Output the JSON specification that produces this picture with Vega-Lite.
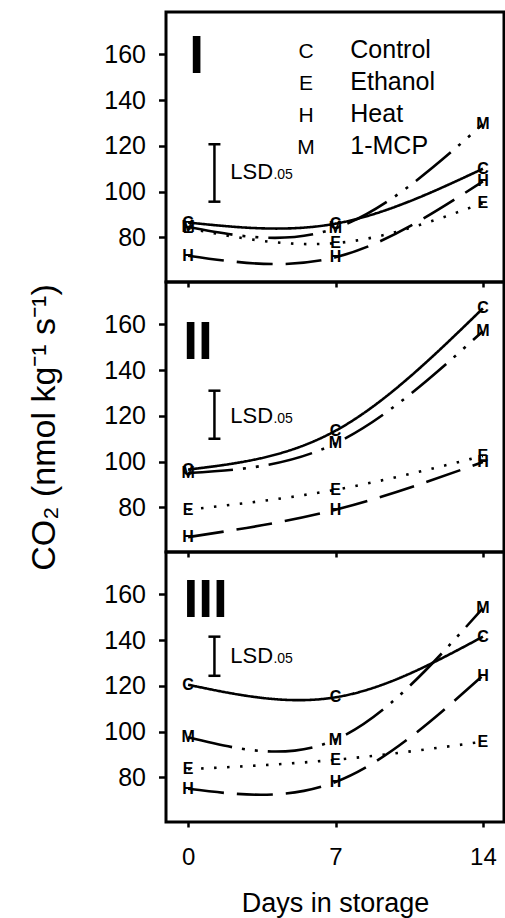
{
  "$schema": "https://vega.github.io/schema/vega-lite/v6.json",
  "padding": {"left": 26, "top": 10, "right": 0, "bottom": 0},
  "background": "white",
  "spacing": 0,
  "bounds": "flush",
  "datasets": {
    "pts": [
      {"panel": "I", "treatment": "Control", "code": "C", "day": 0, "co2": 86.5},
      {"panel": "I", "treatment": "Control", "code": "C", "day": 7, "co2": 86},
      {"panel": "I", "treatment": "Control", "code": "C", "day": 14, "co2": 110},
      {"panel": "I", "treatment": "Ethanol", "code": "E", "day": 0, "co2": 84},
      {"panel": "I", "treatment": "Ethanol", "code": "E", "day": 7, "co2": 77.5},
      {"panel": "I", "treatment": "Ethanol", "code": "E", "day": 14, "co2": 95},
      {"panel": "I", "treatment": "Heat", "code": "H", "day": 0, "co2": 72},
      {"panel": "I", "treatment": "Heat", "code": "H", "day": 7, "co2": 71.3},
      {"panel": "I", "treatment": "Heat", "code": "H", "day": 14, "co2": 104.5},
      {"panel": "I", "treatment": "1-MCP", "code": "M", "day": 0, "co2": 84.5},
      {"panel": "I", "treatment": "1-MCP", "code": "M", "day": 7, "co2": 84},
      {"panel": "I", "treatment": "1-MCP", "code": "M", "day": 14, "co2": 129.5},
      {"panel": "II", "treatment": "Control", "code": "C", "day": 0, "co2": 96.5},
      {"panel": "II", "treatment": "Control", "code": "C", "day": 7, "co2": 113.5},
      {"panel": "II", "treatment": "Control", "code": "C", "day": 14, "co2": 167},
      {"panel": "II", "treatment": "Ethanol", "code": "E", "day": 0, "co2": 79},
      {"panel": "II", "treatment": "Ethanol", "code": "E", "day": 7, "co2": 87.7},
      {"panel": "II", "treatment": "Ethanol", "code": "E", "day": 14, "co2": 102.5},
      {"panel": "II", "treatment": "Heat", "code": "H", "day": 0, "co2": 67},
      {"panel": "II", "treatment": "Heat", "code": "H", "day": 7, "co2": 79},
      {"panel": "II", "treatment": "Heat", "code": "H", "day": 14, "co2": 99.8},
      {"panel": "II", "treatment": "1-MCP", "code": "M", "day": 0, "co2": 95},
      {"panel": "II", "treatment": "1-MCP", "code": "M", "day": 7, "co2": 108},
      {"panel": "II", "treatment": "1-MCP", "code": "M", "day": 14, "co2": 157},
      {"panel": "III", "treatment": "Control", "code": "C", "day": 0, "co2": 120.5},
      {"panel": "III", "treatment": "Control", "code": "C", "day": 7, "co2": 115},
      {"panel": "III", "treatment": "Control", "code": "C", "day": 14, "co2": 141.5},
      {"panel": "III", "treatment": "Ethanol", "code": "E", "day": 0, "co2": 83.6},
      {"panel": "III", "treatment": "Ethanol", "code": "E", "day": 7, "co2": 87.7},
      {"panel": "III", "treatment": "Ethanol", "code": "E", "day": 14, "co2": 95.6},
      {"panel": "III", "treatment": "Heat", "code": "H", "day": 0, "co2": 75},
      {"panel": "III", "treatment": "Heat", "code": "H", "day": 7, "co2": 78},
      {"panel": "III", "treatment": "Heat", "code": "H", "day": 14, "co2": 124.5},
      {"panel": "III", "treatment": "1-MCP", "code": "M", "day": 0, "co2": 97.5},
      {"panel": "III", "treatment": "1-MCP", "code": "M", "day": 7, "co2": 96.5},
      {"panel": "III", "treatment": "1-MCP", "code": "M", "day": 14, "co2": 154}
    ],
    "lsd": [
      {"panel": "I", "day": 1.25, "lo": 95.6, "hi": 120.7, "textDay": 2.0, "subDay": 4.05, "textVal": 105.5},
      {"panel": "II", "day": 1.25, "lo": 110, "hi": 131, "textDay": 2.0, "subDay": 4.05, "textVal": 116.8},
      {"panel": "III", "day": 1.25, "lo": 124.4, "hi": 141.5, "textDay": 2.0, "subDay": 4.05, "textVal": 130.2}
    ],
    "roman": [
      {"panel": "I", "label": "I", "day": 0.4, "val": 151.7},
      {"panel": "II", "label": "II", "day": 0.47, "val": 144.9},
      {"panel": "III", "label": "III", "day": 0.83, "val": 150.1}
    ],
    "legend": [
      {"code": "C", "name": "Control", "val": 158.3},
      {"code": "E", "name": "Ethanol", "val": 144.3},
      {"code": "H", "name": "Heat", "val": 130.3},
      {"code": "M", "name": "1-MCP", "val": 116.3}
    ]
  },
  "config": {
    "view": {"stroke": "black", "strokeWidth": 3},
    "axis": {
      "labelFont": "Liberation Sans", "titleFont": "Liberation Sans",
      "labelColor": "black", "titleColor": "black", "tickColor": "black",
      "tickWidth": 2.5, "grid": false, "domain": false, "titleFontWeight": "normal"
    },
    "text": {"font": "Liberation Sans", "color": "black"}
  },
  "vconcat": [
    {
      "width": 338, "height": 270,
      "layer": [
        {
          "data": {"name": "pts"},
          "transform": [{"filter": "datum.panel === 'I'"}],
          "mark": {"type": "line", "interpolate": "natural", "strokeWidth": 2.6, "color": "black"},
          "encoding": {
            "x": {"field": "day", "type": "quantitative", "scale": {"domain": [-1.05, 15], "nice": false, "zero": false},
                  "axis": {"values": [0, 7, 14], "labels": false, "title": null, "tickSize": 5}},
            "y": {"field": "co2", "type": "quantitative", "scale": {"domain": [60.5, 178.5], "nice": false, "zero": false},
                  "axis": {"values": [80, 100, 120, 140, 160], "title": null, "labelFontSize": 25, "tickSize": 7.5, "labelPadding": 13}},
            "strokeDash": {"field": "treatment", "type": "nominal", "legend": null,
                           "scale": {"domain": ["Control", "Ethanol", "Heat", "1-MCP"], "range": [[1, 0], [2.5, 10.5], [36, 13], [45, 10, 3, 10, 3, 10]]}}
          }
        },
        {
          "data": {"name": "pts"},
          "transform": [{"filter": "datum.panel === 'I'"}],
          "mark": {"type": "text", "fontSize": 16, "fontWeight": "bold", "baseline": "middle", "align": "center"},
          "encoding": {
            "x": {"field": "day", "type": "quantitative"},
            "y": {"field": "co2", "type": "quantitative"},
            "text": {"field": "code"}
          }
        },
        {
          "data": {"name": "lsd"},
          "transform": [{"filter": "datum.panel === 'I'"}],
          "mark": {"type": "rule", "strokeWidth": 2.5, "color": "black"},
          "encoding": {
            "x": {"field": "day", "type": "quantitative"},
            "y": {"field": "lo", "type": "quantitative"},
            "y2": {"field": "hi"}
          }
        },
        {
          "data": {"name": "lsd"},
          "transform": [{"filter": "datum.panel === 'I'"}],
          "mark": {"type": "tick", "orient": "horizontal", "size": 12, "thickness": 2.5, "color": "black", "opacity": 1},
          "encoding": {
            "x": {"field": "day", "type": "quantitative"},
            "y": {"field": "lo", "type": "quantitative"}
          }
        },
        {
          "data": {"name": "lsd"},
          "transform": [{"filter": "datum.panel === 'I'"}],
          "mark": {"type": "tick", "orient": "horizontal", "size": 12, "thickness": 2.5, "color": "black", "opacity": 1},
          "encoding": {
            "x": {"field": "day", "type": "quantitative"},
            "y": {"field": "hi", "type": "quantitative"}
          }
        },
        {
          "data": {"name": "lsd"},
          "transform": [{"filter": "datum.panel === 'I'"}],
          "mark": {"type": "text", "fontSize": 22, "align": "left", "baseline": "alphabetic", "text": "LSD"},
          "encoding": {
            "x": {"field": "textDay", "type": "quantitative"},
            "y": {"field": "textVal", "type": "quantitative"}
          }
        },
        {
          "data": {"name": "lsd"},
          "transform": [{"filter": "datum.panel === 'I'"}],
          "mark": {"type": "text", "fontSize": 14, "align": "left", "baseline": "alphabetic", "text": ".05"},
          "encoding": {
            "x": {"field": "subDay", "type": "quantitative"},
            "y": {"field": "textVal", "type": "quantitative"}
          }
        },
        {
          "data": {"name": "roman"},
          "transform": [{"filter": "datum.panel === 'I'"}],
          "mark": {"type": "text", "fontSize": 53, "fontWeight": "bold", "align": "center", "baseline": "alphabetic"},
          "encoding": {
            "x": {"field": "day", "type": "quantitative"},
            "y": {"field": "val", "type": "quantitative"},
            "text": {"field": "label"}
          }
        },
        {
          "data": {"name": "legend"},
          "mark": {"type": "text", "fontSize": 21, "align": "center", "baseline": "alphabetic"},
          "encoding": {
            "x": {"datum": 5.6, "type": "quantitative"},
            "y": {"field": "val", "type": "quantitative"},
            "text": {"field": "code"}
          }
        },
        {
          "data": {"name": "legend"},
          "mark": {"type": "text", "fontSize": 25, "align": "left", "baseline": "alphabetic"},
          "encoding": {
            "x": {"datum": 7.7, "type": "quantitative"},
            "y": {"field": "val", "type": "quantitative"},
            "text": {"field": "name"}
          }
        }
      ]
    },
    {
      "width": 338, "height": 270,
      "layer": [
        {
          "data": {"name": "pts"},
          "transform": [{"filter": "datum.panel === 'II'"}],
          "mark": {"type": "line", "interpolate": "natural", "strokeWidth": 2.6, "color": "black"},
          "encoding": {
            "x": {"field": "day", "type": "quantitative", "scale": {"domain": [-1.05, 15], "nice": false, "zero": false},
                  "axis": {"values": [0, 7, 14], "labels": false, "title": null, "tickSize": 5}},
            "y": {"field": "co2", "type": "quantitative", "scale": {"domain": [60.5, 178.5], "nice": false, "zero": false},
                  "axis": {"values": [80, 100, 120, 140, 160], "title": "CO₂ (nmol kg⁻¹ s⁻¹)", "titleFontSize": 34, "titlePadding": 42, "titleY": 145, "labelFontSize": 25, "tickSize": 7.5, "labelPadding": 13}},
            "strokeDash": {"field": "treatment", "type": "nominal", "legend": null,
                           "scale": {"domain": ["Control", "Ethanol", "Heat", "1-MCP"], "range": [[1, 0], [2.5, 10.5], [36, 13], [45, 10, 3, 10, 3, 10]]}}
          }
        },
        {
          "data": {"name": "pts"},
          "transform": [{"filter": "datum.panel === 'II'"}],
          "mark": {"type": "text", "fontSize": 16, "fontWeight": "bold", "baseline": "middle", "align": "center"},
          "encoding": {
            "x": {"field": "day", "type": "quantitative"},
            "y": {"field": "co2", "type": "quantitative"},
            "text": {"field": "code"}
          }
        },
        {
          "data": {"name": "lsd"},
          "transform": [{"filter": "datum.panel === 'II'"}],
          "mark": {"type": "rule", "strokeWidth": 2.5, "color": "black"},
          "encoding": {
            "x": {"field": "day", "type": "quantitative"},
            "y": {"field": "lo", "type": "quantitative"},
            "y2": {"field": "hi"}
          }
        },
        {
          "data": {"name": "lsd"},
          "transform": [{"filter": "datum.panel === 'II'"}],
          "mark": {"type": "tick", "orient": "horizontal", "size": 12, "thickness": 2.5, "color": "black", "opacity": 1},
          "encoding": {
            "x": {"field": "day", "type": "quantitative"},
            "y": {"field": "lo", "type": "quantitative"}
          }
        },
        {
          "data": {"name": "lsd"},
          "transform": [{"filter": "datum.panel === 'II'"}],
          "mark": {"type": "tick", "orient": "horizontal", "size": 12, "thickness": 2.5, "color": "black", "opacity": 1},
          "encoding": {
            "x": {"field": "day", "type": "quantitative"},
            "y": {"field": "hi", "type": "quantitative"}
          }
        },
        {
          "data": {"name": "lsd"},
          "transform": [{"filter": "datum.panel === 'II'"}],
          "mark": {"type": "text", "fontSize": 22, "align": "left", "baseline": "alphabetic", "text": "LSD"},
          "encoding": {
            "x": {"field": "textDay", "type": "quantitative"},
            "y": {"field": "textVal", "type": "quantitative"}
          }
        },
        {
          "data": {"name": "lsd"},
          "transform": [{"filter": "datum.panel === 'II'"}],
          "mark": {"type": "text", "fontSize": 14, "align": "left", "baseline": "alphabetic", "text": ".05"},
          "encoding": {
            "x": {"field": "subDay", "type": "quantitative"},
            "y": {"field": "textVal", "type": "quantitative"}
          }
        },
        {
          "data": {"name": "roman"},
          "transform": [{"filter": "datum.panel === 'II'"}],
          "mark": {"type": "text", "fontSize": 53, "fontWeight": "bold", "align": "center", "baseline": "alphabetic"},
          "encoding": {
            "x": {"field": "day", "type": "quantitative"},
            "y": {"field": "val", "type": "quantitative"},
            "text": {"field": "label"}
          }
        }
      ]
    },
    {
      "width": 338, "height": 270,
      "layer": [
        {
          "data": {"name": "pts"},
          "transform": [{"filter": "datum.panel === 'III'"}],
          "mark": {"type": "line", "interpolate": "natural", "strokeWidth": 2.6, "color": "black"},
          "encoding": {
            "x": {"field": "day", "type": "quantitative", "scale": {"domain": [-1.05, 15], "nice": false, "zero": false},
                  "axis": {"values": [0, 7, 14], "title": "Days in storage", "titleFontSize": 27, "titlePadding": 21, "labelFontSize": 24, "labelPadding": 18, "tickSize": 5}},
            "y": {"field": "co2", "type": "quantitative", "scale": {"domain": [60.5, 178.5], "nice": false, "zero": false},
                  "axis": {"values": [80, 100, 120, 140, 160], "title": null, "labelFontSize": 25, "tickSize": 7.5, "labelPadding": 13}},
            "strokeDash": {"field": "treatment", "type": "nominal", "legend": null,
                           "scale": {"domain": ["Control", "Ethanol", "Heat", "1-MCP"], "range": [[1, 0], [2.5, 10.5], [36, 13], [45, 10, 3, 10, 3, 10]]}}
          }
        },
        {
          "data": {"name": "pts"},
          "transform": [{"filter": "datum.panel === 'III'"}],
          "mark": {"type": "text", "fontSize": 16, "fontWeight": "bold", "baseline": "middle", "align": "center"},
          "encoding": {
            "x": {"field": "day", "type": "quantitative"},
            "y": {"field": "co2", "type": "quantitative"},
            "text": {"field": "code"}
          }
        },
        {
          "data": {"name": "lsd"},
          "transform": [{"filter": "datum.panel === 'III'"}],
          "mark": {"type": "rule", "strokeWidth": 2.5, "color": "black"},
          "encoding": {
            "x": {"field": "day", "type": "quantitative"},
            "y": {"field": "lo", "type": "quantitative"},
            "y2": {"field": "hi"}
          }
        },
        {
          "data": {"name": "lsd"},
          "transform": [{"filter": "datum.panel === 'III'"}],
          "mark": {"type": "tick", "orient": "horizontal", "size": 12, "thickness": 2.5, "color": "black", "opacity": 1},
          "encoding": {
            "x": {"field": "day", "type": "quantitative"},
            "y": {"field": "lo", "type": "quantitative"}
          }
        },
        {
          "data": {"name": "lsd"},
          "transform": [{"filter": "datum.panel === 'III'"}],
          "mark": {"type": "tick", "orient": "horizontal", "size": 12, "thickness": 2.5, "color": "black", "opacity": 1},
          "encoding": {
            "x": {"field": "day", "type": "quantitative"},
            "y": {"field": "hi", "type": "quantitative"}
          }
        },
        {
          "data": {"name": "lsd"},
          "transform": [{"filter": "datum.panel === 'III'"}],
          "mark": {"type": "text", "fontSize": 22, "align": "left", "baseline": "alphabetic", "text": "LSD"},
          "encoding": {
            "x": {"field": "textDay", "type": "quantitative"},
            "y": {"field": "textVal", "type": "quantitative"}
          }
        },
        {
          "data": {"name": "lsd"},
          "transform": [{"filter": "datum.panel === 'III'"}],
          "mark": {"type": "text", "fontSize": 14, "align": "left", "baseline": "alphabetic", "text": ".05"},
          "encoding": {
            "x": {"field": "subDay", "type": "quantitative"},
            "y": {"field": "textVal", "type": "quantitative"}
          }
        },
        {
          "data": {"name": "roman"},
          "transform": [{"filter": "datum.panel === 'III'"}],
          "mark": {"type": "text", "fontSize": 53, "fontWeight": "bold", "align": "center", "baseline": "alphabetic"},
          "encoding": {
            "x": {"field": "day", "type": "quantitative"},
            "y": {"field": "val", "type": "quantitative"},
            "text": {"field": "label"}
          }
        }
      ]
    }
  ]
}
